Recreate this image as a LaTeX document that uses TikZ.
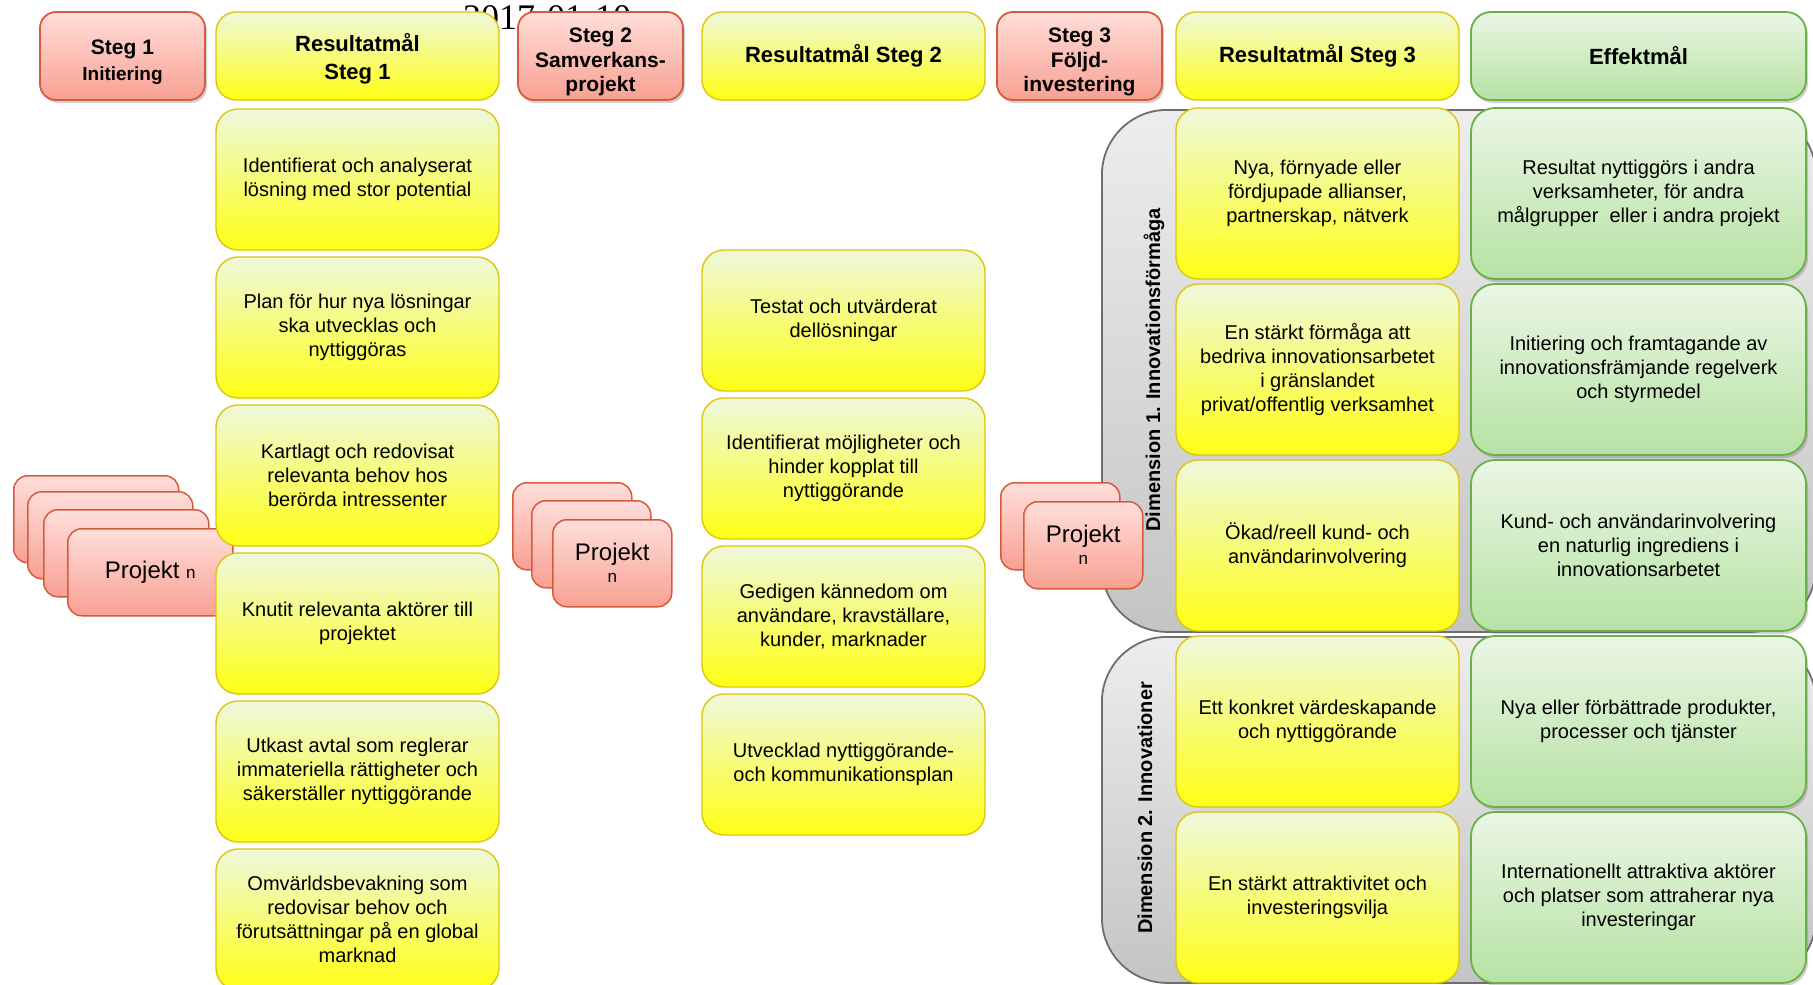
\documentclass[tikz,border=0pt]{standalone}
\usepackage{fontspec}
\setmainfont{Liberation Sans}
\newfontfamily\datumfont{Liberation Serif}
\usepackage{tikz}
\usetikzlibrary{positioning}
\usetikzlibrary{shadows}

\definecolor{rodtopp}{HTML}{FFDEDA}
\definecolor{rodbotten}{HTML}{F8A092}
\definecolor{rodlinje}{HTML}{D65A3C}
\definecolor{gultopp}{HTML}{EEF8DC}
\definecolor{gulbotten}{HTML}{FFFF14}
\definecolor{gullinje}{HTML}{DCC60A}
\definecolor{grontopp}{HTML}{EAF6E4}
\definecolor{gronbotten}{HTML}{B6E2A4}
\definecolor{gronlinje}{HTML}{6CAE48}
\definecolor{gratopp}{HTML}{EDEDED}
\definecolor{grabotten}{HTML}{C4C4C4}
\definecolor{gralinje}{HTML}{6E6E6E}

\newcommand{\toppstrut}[1]{\rule{0pt}{#1}}

\begin{document}
\begin{tikzpicture}[x=1pt, y=-1pt,
  skugga/.style={drop shadow={shadow xshift=2pt, shadow yshift=-3pt, opacity=0.3, fill=black!60}},
  stegbox/.style={rectangle, rounded corners=16pt, draw=rodlinje, line width=1.8pt, top color=rodtopp, bottom color=rodbotten, minimum width=165pt, minimum height=88pt, inner sep=0pt, align=center, font=\fontsize{21}{24.8}\selectfont\bfseries, skugga},
  malhuvud/.style={rectangle, rounded corners=20pt, draw=gullinje, line width=1.4pt, top color=gultopp, bottom color=gulbotten, minimum width=283pt, minimum height=88pt, inner sep=0pt, align=center, font=\fontsize{22}{28}\selectfont\bfseries},
  malbox/.style={rectangle, rounded corners=22pt, draw=gullinje, line width=1.4pt, top color=gultopp, bottom color=gulbotten, minimum width=283pt, minimum height=141pt, inner sep=0pt, align=center, font=\fontsize{20}{24}\selectfont},
  malhog/.style={malbox, minimum height=171pt},
  effhuvud/.style={malhuvud, draw=gronlinje, line width=1.8pt, top color=grontopp, bottom color=gronbotten, minimum width=335pt, skugga},
  effbox/.style={malhog, rounded corners=24pt, draw=gronlinje, line width=1.8pt, top color=grontopp, bottom color=gronbotten, minimum width=335pt, skugga},
  dimbox/.style={rectangle, rounded corners=65pt, draw=gralinje, line width=1.8pt, top color=gratopp, bottom color=grabotten, minimum width=714pt, inner sep=0pt, anchor=north west},
  dimtext/.style={rotate=90, anchor=base, inner sep=0pt, font=\fontsize{20}{24}\selectfont\bfseries},
  projbox/.style={rectangle, rounded corners=14pt, draw=rodlinje, line width=1.5pt, top color=rodtopp, bottom color=rodbotten, minimum width=165pt, minimum height=87pt, inner sep=0pt, align=center, anchor=north west, font=\fontsize{24}{28}\selectfont},
  projsmal/.style={projbox, minimum width=119pt}]
%%% ram %%%
\useasboundingbox (0,0) rectangle (1813,985);
\clip (0,0) rectangle (1813,985);

\node[anchor=base west, inner sep=0pt, font=\datumfont\fontsize{36}{40}\selectfont] (datum) at (463,29) {2017-01-10};

%% dimensioner
\node[dimbox, minimum height=522pt] (dim1) at (1101,109) {};
\node[dimbox, minimum height=346pt] (dim2) at (1101,636) {};
\node[dimtext] (dim1txt) at (1160,370) {Dimension 1. Innovationsförmåga};
\node[dimtext] (dim2txt) at (1152,808) {Dimension 2. Innovationer};

%% projekt
\node[projbox] (pv1) at (13,475) {};
\node[projbox] (pv2) at (27,491) {};
\node[projbox] (pv3) at (43,509) {};
\node[projbox] (pv4) at (67,528) {Projekt {\fontsize{17}{20}\selectfont n}};
%
\node[projsmal] (pm1) at (512,482) {};
\node[projsmal] (pm2) at (531,500) {};
\node[projsmal] (pm3) at (552,519) {Projekt\\[-6pt]{\fontsize{17}{20}\selectfont n}};
%
\node[projsmal] (ph1) at (1000,482) {};
\node[projsmal] (ph2) at (1023,501) {Projekt\\[-6pt]{\fontsize{17}{20}\selectfont n}};

%%% rubriker %%%
\node[stegbox] (steg1) at (122.5,56) {\toppstrut{26.5pt}Steg 1\\[1.5pt]{\fontsize{19}{25}\selectfont Initiering}};
\node[malhuvud, right=9.4pt of steg1] (res1) {\toppstrut{24pt}Resultatmål\\Steg 1};
\node[stegbox, right=17.4pt of res1] (steg2) {\toppstrut{26.5pt}Steg 2\\Samverkans-\\projekt};
\node[malhuvud, right=17.4pt of steg2] (res2) {Resultatmål Steg 2};
\node[stegbox, right=10.4pt of res2] (steg3) {\toppstrut{26.5pt}Steg 3\\Följd-\\investering};
\node[malhuvud, right=12.4pt of steg3] (res3) {Resultatmål Steg 3};
\node[effhuvud, right=10.4pt of res3] (eff) {Effektmål};

%% steg 1
\node[malbox, below=7.6pt of res1] (r1a) {Identifierat och analyserat\\lösning med stor potential};
\node[malbox, below=5.6pt of r1a] (r1b) {Plan för hur nya lösningar\\ska utvecklas och\\nyttiggöras};
\node[malbox, below=5.6pt of r1b] (r1c) {Kartlagt och redovisat\\relevanta behov hos\\berörda intressenter};
\node[malbox, below=5.6pt of r1c] (r1d) {Knutit relevanta aktörer till\\projektet};
\node[malbox, below=5.6pt of r1d] (r1e) {Utkast avtal som reglerar\\immateriella rättigheter och\\säkerställer nyttiggörande};
\node[malbox, below=5.6pt of r1e] (r1f) {Omvärldsbevakning som\\redovisar behov och\\förutsättningar på en global\\marknad};

%% steg 2
\node[malbox, below=148.6pt of res2] (r2a) {Testat och utvärderat\\dellösningar};
\node[malbox, below=5.6pt of r2a] (r2b) {Identifierat möjligheter och\\hinder kopplat till\\nyttiggörande};
\node[malbox, below=5.6pt of r2b] (r2c) {Gedigen kännedom om\\användare, kravställare,\\kunder, marknader};
\node[malbox, below=5.6pt of r2c] (r2d) {Utvecklad nyttiggörande-\\och kommunikationsplan};

%% steg 3
\node[malhog, below=6.6pt of res3] (r3a) {Nya, förnyade eller\\fördjupade allianser,\\partnerskap, nätverk};
\node[malhog, below=3.6pt of r3a] (r3b) {En stärkt förmåga att\\bedriva innovationsarbetet\\i gränslandet\\privat/offentlig verksamhet};
\node[malhog, below=3.6pt of r3b] (r3c) {Ökad/reell kund- och\\användarinvolvering};
\node[malhog, below=3.6pt of r3c] (r3d) {Ett konkret värdeskapande\\och nyttiggörande};
\node[malhog, below=3.6pt of r3d] (r3e) {En stärkt attraktivitet och\\investeringsvilja};

%% effekt
\node[effbox, below=6.2pt of eff] (e1) {Resultat nyttiggörs i andra\\verksamheter, för andra\\målgrupper\ \ eller i andra projekt};
\node[effbox, below=3.2pt of e1] (e2) {Initiering och framtagande av\\innovationsfrämjande regelverk\\och styrmedel};
\node[effbox, below=3.2pt of e2] (e3) {Kund- och användarinvolvering\\en naturlig ingrediens i\\innovationsarbetet};
\node[effbox, below=3.2pt of e3] (e4) {Nya eller förbättrade produkter,\\processer och tjänster};
\node[effbox, below=3.2pt of e4] (e5) {Internationellt attraktiva aktörer\\och platser som attraherar nya\\investeringar};

\end{tikzpicture}
\end{document}
